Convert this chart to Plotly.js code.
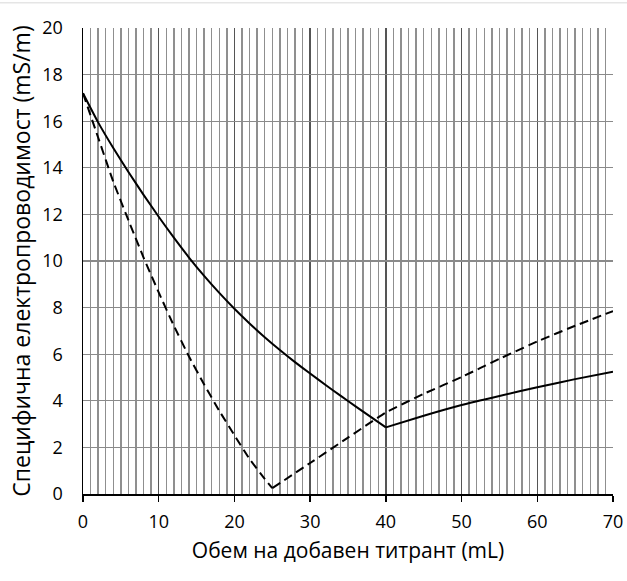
<!DOCTYPE html>
<html>
<head>
<meta charset="utf-8">
<script src="https://cdn.plot.ly/plotly-3.0.1.min.js"></script>
<style>html,body{margin:0;padding:0;background:#fff;}</style>
</head>
<body>
<div id="chart" style="width:627px;height:581px;"></div>
<script>
// Solid curve: descending branch and ascending branch (corner at 40 mL)
var solidDescX = [0,2,4,6,8,10,12,14,16,18,20,22,24,26,28,30,32,34,36,38,40];
var solidDescY = [17.2,15.95,14.85,13.82,12.84,11.9,11.0,10.15,9.36,8.63,7.95,7.32,6.73,6.18,5.66,5.17,4.69,4.22,3.76,3.31,2.86];
var solidAscX = [40,45,50,55,60,65,70];
var solidAscY = [2.86,3.36,3.82,4.21,4.58,4.93,5.25];
// Dashed curve: descending branch and ascending branch (corner at 25 mL)
var dashDescX = [0,2,4,6,8,10,12,14,16,18,20,22,24,25];
var dashDescY = [17.2,15.3,13.4,11.75,10.15,8.65,7.22,5.9,4.7,3.57,2.52,1.5,0.65,0.25];
var dashAscX = [25,30,35,40,45,50,55,60,65,70];
var dashAscY = [0.25,1.33,2.42,3.5,4.3,5.02,5.8,6.55,7.22,7.85];

var xTitle = 'Обем на добавен титрант (mL)';
var yTitle = 'Специфична електропроводимост (mS/m)';

var fam = '"Open Sans", sans-serif';

function tr(x, y, dashed) {
  return {x: x, y: y, mode: 'lines',
    line: dashed ? {color: '#000', width: 2, dash: '9px,5px', shape: 'spline', smoothing: 0.3}
                 : {color: '#000', width: 2, shape: 'spline', smoothing: 0.5},
    showlegend: false, hoverinfo: 'skip'};
}

var traces = [
  tr(solidDescX, solidDescY, false),
  tr(solidAscX, solidAscY, false),
  tr(dashDescX, dashDescY, true),
  tr(dashAscX, dashAscY, true)
];

var layout = {
  width: 627, height: 581,
  margin: {l: 83, r: 14, t: 28, b: 87},
  paper_bgcolor: '#fff', plot_bgcolor: '#fff',
  font: {family: fam, color: '#000', size: 18},
  xaxis: {
    range: [0, 70], dtick: 10, tick0: 0,
    showgrid: true, gridcolor: '#555', gridwidth: 1.3,
    minor: {dtick: 1, showgrid: true, gridcolor: '#8f8f8f', gridwidth: 1.4, ticks: ''},
    showline: true, linecolor: '#000', linewidth: 1.5,
    ticks: 'outside', ticklen: 6, tickcolor: '#000', tickwidth: 1.5,
    zeroline: false,
    ticklabelstandoff: 5,
    tickfont: {size: 18, family: fam},
    title: {text: xTitle, font: {size: 21, family: fam}, standoff: 11}
  },
  yaxis: {
    range: [0, 20], dtick: 2, tick0: 0,
    showgrid: true, gridcolor: '#8a8a8a', gridwidth: 1.3,
    showline: true, linecolor: '#000', linewidth: 1.5,
    ticks: '', zeroline: false,
    ticklabelstandoff: 15,
    tickfont: {size: 18, family: fam},
    title: {text: yTitle, font: {size: 23, family: fam}, standoff: 5}
  },
  shapes: [
    {type: 'line', xref: 'paper', yref: 'paper', x0: -0.16, x1: 1.03, y0: 1.054, y1: 1.054, line: {color: '#d8d8d8', width: 1}}
  ]
};

Plotly.newPlot('chart', traces, layout, {staticPlot: true, displayModeBar: false});
</script>
</body>
</html>
